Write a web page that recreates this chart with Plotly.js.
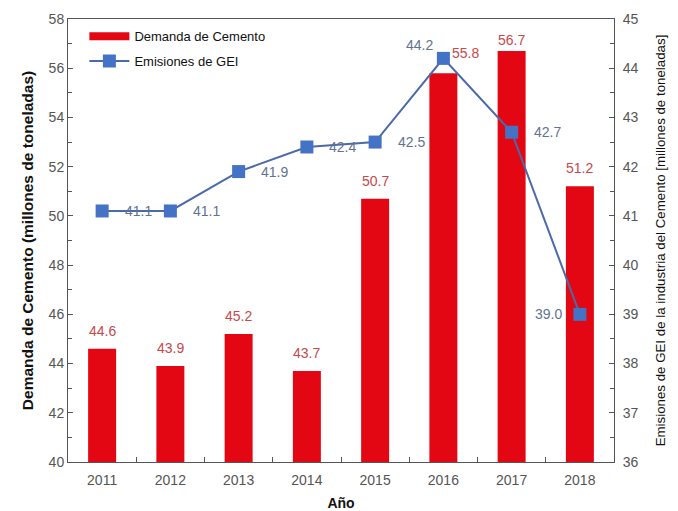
<!DOCTYPE html>
<html>
<head>
<meta charset="utf-8">
<script src="https://cdn.plot.ly/plotly-3.0.1.min.js"></script>
<style>html,body{margin:0;padding:0;background:#fff}#chart{width:678px;height:511px}</style>
</head>
<body>
<div id="chart"></div>
<script>
const years = [2011, 2012, 2013, 2014, 2015, 2016, 2017, 2018];
const yearLabels = ['2011','2012','2013','2014','2015','2016','2017','2018'];
const demanda = [44.6, 43.9, 45.2, 43.7, 50.7, 55.8, 56.7, 51.2];
const emisiones = [41.1, 41.1, 41.9, 42.4, 42.5, 44.2, 42.7, 39.0];

const barColor = '#e30613';
const lineColor = '#4a6aa8';
const markerColor = '#4472c4';
const barLabelColor = '#c8484c';
const lineLabelColor = '#5f7390';
const labelFamily = 'Arial, Liberation Sans, sans-serif';

const traces = [
  // legend entry for the bars (wide red key, as in the original)
  {
    type: 'scatter', mode: 'lines', x: [null], y: [null], name: 'Demanda de Cemento',
    line: {color: barColor, width: 8}, legendgroup: 'a', hoverinfo: 'skip'
  },
  {
    type: 'bar', x: years, y: demanda, name: 'Demanda de Cemento', showlegend: false,
    marker: {color: barColor}, width: 0.41, yaxis: 'y', legendgroup: 'a'
  },
  {
    type: 'scatter', mode: 'lines+markers', x: years, y: emisiones, name: 'Emisiones de GEI',
    yaxis: 'y2', line: {color: lineColor, width: 2}, legendgroup: 'b',
    marker: {symbol: 'square', size: 13, color: markerColor}
  }
];

const annotations = [];
demanda.forEach((v, i) => {
  let xs = 0, ys = 18;
  if (i === 5) { xs = 22; ys = 20; }
  if (i === 6) { ys = 11; }
  annotations.push({
    x: years[i], y: v, xref: 'x', yref: 'y', text: v.toFixed(1), showarrow: false,
    xshift: xs, yshift: ys, font: {family: labelFamily, size: 14, color: barLabelColor}
  });
});
emisiones.forEach((v, i) => {
  let xs = 36, ys = 0;
  if (i === 5) { xs = -24; ys = 13; }
  if (i === 7) { xs = -31; ys = 0; }
  annotations.push({
    x: years[i], y: v, xref: 'x', yref: 'y2', text: v.toFixed(1), showarrow: false,
    xshift: xs, yshift: ys, font: {family: labelFamily, size: 14, color: lineLabelColor}
  });
});

const axisColor = '#555555';
const tickFont = {family: labelFamily, size: 14, color: '#555555'};

const layout = {
  width: 678, height: 511,
  margin: {l: 68, r: 64, t: 19, b: 49},
  paper_bgcolor: '#ffffff', plot_bgcolor: '#ffffff',
  font: {family: labelFamily, color: '#222'},
  showlegend: true,
  legend: {
    x: 0.03, y: 0.995, xanchor: 'left', yanchor: 'top',
    bgcolor: 'rgba(255,255,255,0)', font: {size: 13, color: '#111'},
    itemwidth: 40, tracegroupgap: 5
  },
  xaxis: {
    type: 'linear', range: [2010.5, 2018.5],
    tickvals: years, ticktext: yearLabels, ticks: 'inside', ticklen: 0,
    minor: {tick0: 2010.5, dtick: 1, ticks: 'inside', ticklen: 5, tickcolor: axisColor, showgrid: false},
    showline: true, linecolor: axisColor, linewidth: 1, mirror: true,
    showgrid: false, zeroline: false, tickfont: tickFont, ticklabelstandoff: 5,
    title: {text: 'Año', font: {size: 14, color: '#111', weight: 'bold'}, standoff: 11}
  },
  yaxis: {
    range: [40, 58], dtick: 2, tick0: 40,
    showline: true, linecolor: axisColor, linewidth: 1,
    ticks: 'inside', ticklen: 5, tickcolor: axisColor,
    minor: {dtick: 1, ticks: 'inside', ticklen: 4, tickcolor: axisColor},
    showgrid: false, zeroline: false, tickfont: tickFont,
    title: {text: 'Demanda de Cemento (millones de toneladas)', font: {size: 15.5, color: '#111', weight: 'bold'}, standoff: 11}
  },
  yaxis2: {
    range: [36, 45], dtick: 1, tick0: 36, overlaying: 'y', side: 'right',
    showline: true, linecolor: axisColor, linewidth: 1,
    ticks: 'inside', ticklen: 5, tickcolor: axisColor,
    minor: {dtick: 0.5, ticks: 'inside', ticklen: 4, tickcolor: axisColor},
    showgrid: false, zeroline: false, tickfont: tickFont, ticklabelstandoff: 5,
    title: {text: 'Emisiones de GEI de la industria del Cemento [millones de toneladas]', font: {size: 13.3, color: '#111'}, standoff: 18}
  },
  annotations: annotations
};

Plotly.newPlot('chart', traces, layout, {displayModeBar: false, staticPlot: true});
</script>
</body>
</html>
